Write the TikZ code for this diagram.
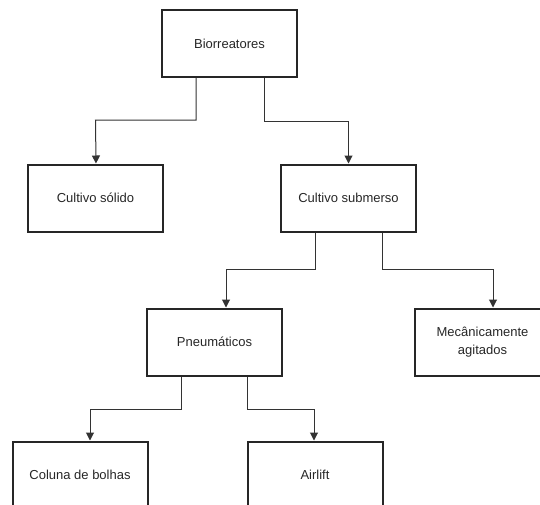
\documentclass[tikz,border=0pt]{standalone}
\usepackage{fontspec}
\setmainfont{Liberation Sans}
\usetikzlibrary{arrows.meta}
\begin{document}
\begin{tikzpicture}[x=1pt,y=-1pt,
  box/.style={draw=black!85,line width=2pt,minimum width=135pt,minimum height=67pt,inner sep=2pt,align=center,font=\fontsize{13}{18}\selectfont,text=black!85},
  conn/.style={draw=black!80,line width=1pt,-{Triangle[length=8pt,width=8pt]}}]
\useasboundingbox (0,0) rectangle (540,504);
\clip (0,0) rectangle (540,504);
\node[box] (bio) at (229.5,43.5) {Biorreatores};
\node[box] (sol) at (95.5,198) {Cultivo sólido};
\node[box] (sub) at (348.5,198) {Cultivo submerso};
\node[box] (pne) at (214.5,342) {Pneumáticos};
\node[box] (mec) at (482.5,342) {Mecânicamente\\agitados};
\node[box] (col) at (80,475) {Coluna de bolhas};
\node[box] (air) at (315,475) {Airlift};
\draw[conn] ([xshift=-33.5pt]bio.south) |- (96,120) -- (96,120 -| sol.north) -- ([xshift=0.5pt]sol.north);
\draw[conn] ([xshift=34.5pt]bio.south) -- ++(0,43) -| (sub.north);
\draw[conn] ([xshift=-33.5pt]sub.south) -- ++(0,37) -| ([xshift=11.5pt]pne.north);
\draw[conn] ([xshift=33.5pt]sub.south) -- ++(0,37) -| ([xshift=10.5pt]mec.north);
\draw[conn] ([xshift=-33.5pt]pne.south) -- ++(0,33) -| ([xshift=10pt]col.north);
\draw[conn] ([xshift=32.5pt]pne.south) -- ++(0,33) -| ([xshift=-1pt]air.north);
\end{tikzpicture}
\end{document}
